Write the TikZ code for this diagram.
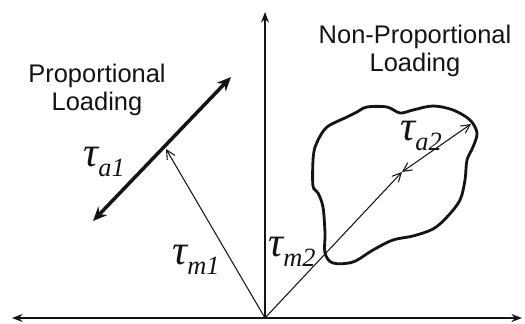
\documentclass[tikz,border=0pt]{standalone}
\usepackage{amsmath}
\usepackage{fontspec}
\setmainfont{Liberation Sans}
\newfontfamily\symbfont{Liberation Serif}
\usepackage{tikz}
\usetikzlibrary{arrows.meta,positioning}
\definecolor{inkblack}{RGB}{20,20,20}
\newcommand{\shear}[1]{{\symbfont\itshape\fontsize{24}{24}\selectfont τ\raisebox{-0.5ex}{\fontsize{15}{15}\selectfont #1}}}

\begin{document}
\begin{tikzpicture}[x=0.02cm,y=-0.02cm,>=Stealth,every node/.style={align=center,inkblack},
    axisline/.style={<->,line width=1.1pt,inkblack,>={Stealth[length=6pt,width=4.5pt]}},
    vecline/.style={->,line width=0.6pt,inkblack,>={Straight Barb[length=5pt,width=5pt]}},
    ampline/.style={<->,line width=0.6pt,inkblack,>={Straight Barb[length=5pt,width=5pt]}},
    propline/.style={<->,line width=2pt,inkblack,>={Stealth[length=8pt,width=7pt]}},
    caption/.style={font=\fontsize{14.5}{16}\selectfont},
    symb/.style={inner sep=0pt}]
  \useasboundingbox (0,0) rectangle (525,324);
  % axes
  \coordinate (O) at (265,318);
  \coordinate (xl) at (12,318);
  \coordinate (xr) at (522,318);
  \coordinate (yt) at (265,12);
  \draw[axisline] (xl) -- (xr);
  \draw[->,line width=1.1pt,inkblack,>={Stealth[length=6pt,width=4.5pt]}] (O) -- (yt);
  % proportional loading
  \coordinate (m1) at (166,149);
  \coordinate (pa) at (93,221);
  \coordinate (pb) at (231,77);
  \draw[propline] (pa) -- (pb);
  \draw[vecline] (O) -- (m1);
  \node[caption] (proptxt) at (97,90) {Proportional\\Loading};
  \node[symb] (ta1) at (104,162) {\shear{a1}};
  \node[symb] (tm1) at (196,260) {\shear{m1}};
  % non-proportional loading
  \coordinate (m2) at (402,172);
  \coordinate (a2) at (471,124);
  \draw[line width=1.6pt,inkblack,line join=round]
    plot[smooth cycle,tension=0.55] coordinates {
      (318,140) (327,127) (347,117) (357,112) (367,107) (387,107) (400,113)
      (413,110) (433,106) (453,110) (470,120) (477,133) (473,147) (467,160)
      (465,180) (460,200) (447,217) (433,229) (413,236) (393,240) (373,250)
      (353,262) (333,263) (325,253) (325,233) (323,207) (318,193) (313,186)
      (313,160) (315,147)};
  \draw[vecline] (O) -- (m2);
  \draw[ampline] (m2) -- (a2);
  \node[caption] (nptxt) at (415,51) {Non-Proportional\\Loading};
  \node[symb] (ta2) at (421,136) {\shear{a2}};
  \node[symb] (tm2) at (292,252) {\shear{m2}};
\end{tikzpicture}
\end{document}
